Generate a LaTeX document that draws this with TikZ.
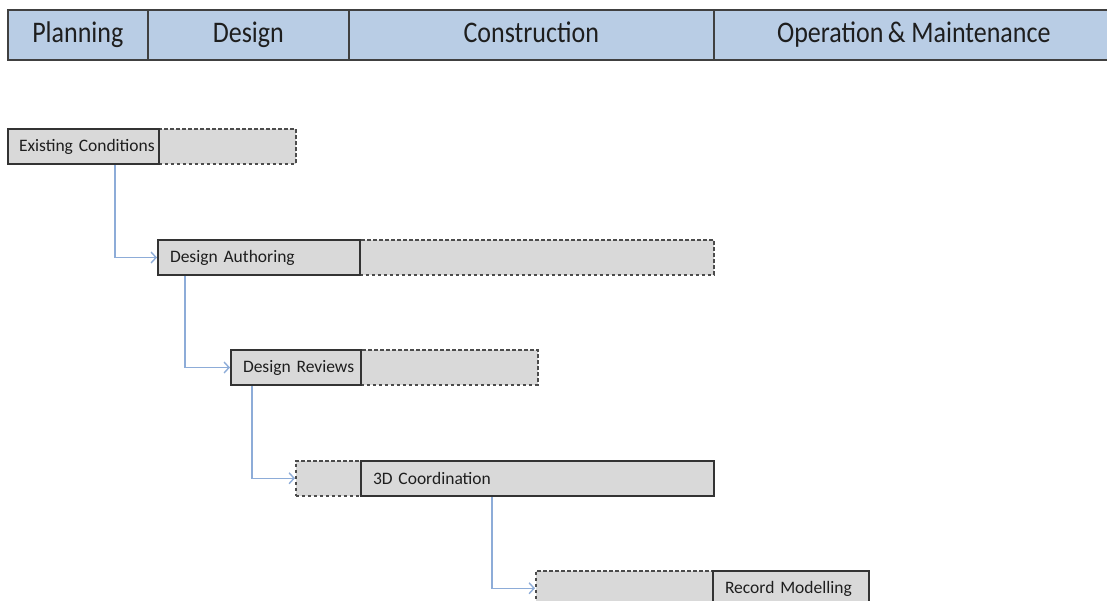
\documentclass[tikz,border=0pt]{standalone}
\usepackage{fontspec}
\setmainfont{Carlito}
\usetikzlibrary{arrows.meta,calc}
\definecolor{hdrblue}{RGB}{185,205,229}
\definecolor{boxgray}{RGB}{217,217,217}
\definecolor{connblue}{RGB}{141,172,216}
\definecolor{txtdark}{RGB}{30,30,30}
\newcommand{\hdrtext}[1]{\scalebox{1}[1.15]{\vphantom{Pg}#1}}
\begin{document}
\begin{tikzpicture}[x=1pt,y=-1pt,
  hdrcell/.style={draw=black!75, line width=1.6pt, fill=hdrblue, minimum height=50pt,
    anchor=north west, inner sep=0pt, text=txtdark, font=\fontsize{26}{30}\selectfont},
  solidbox/.style={draw=black!80, line width=2pt, fill=boxgray, minimum height=35pt,
    inner xsep=12pt, inner ysep=0pt, anchor=north west, align=left, text=txtdark,
    font=\fontsize{17.5}{20}\selectfont},
  dashbox/.style={draw=black!70, dash pattern=on 3.5pt off 2.5pt, line width=1.5pt,
    fill=boxgray, minimum height=35pt, anchor=north west, inner sep=0pt},
  conn/.style={draw=connblue, line width=1.4pt, -{Straight Barb[length=5pt,width=11pt]}}
]
\useasboundingbox (0,0) rectangle (1107,600);
\fill[white] (0,0) rectangle (1107,600);

% header
\node[hdrcell, minimum width=140pt] (plan) at (7,9) {\hdrtext{Planning}};
\node[hdrcell, minimum width=201pt] (des) at (147,9) {\hdrtext{Design}};
\node[hdrcell, minimum width=365pt] (con) at (348,9) {\hdrtext{Construction}};
\node[hdrcell, minimum width=400pt] (om) at (713,9) {\hdrtext{Operation\,\& Maintenance}};

% dashed extensions
\node[dashbox, minimum width=137pt] (ecd) at (158,128) {};
\node[dashbox, minimum width=354pt] (dad) at (359,239) {};
\node[dashbox, minimum width=177pt] (drd) at (360,349) {};
\node[dashbox, minimum width=65pt] (cdd) at (295,460) {};
\node[dashbox, minimum width=177pt] (rmd) at (535,570) {};

% solid boxes
\node[solidbox, text width=129pt, inner xsep=11pt, minimum width=151pt] (ec) at (7,128) {\mbox{Existing Conditions}};
\node[solidbox, text width=178pt] (da) at (157,239) {\mbox{Design Authoring}};
\node[solidbox, text width=106pt] (dr) at (230,349) {\mbox{Design Reviews}};
\node[solidbox, text width=329pt] (cd) at (360,460) {\mbox{3D Coordination}};
\node[solidbox, text width=132pt] (rm) at (712,570) {\mbox{Record Modelling}};

% connectors
\draw[conn] ($(ec.south west)+(108,0)$) |- (da.west);
\draw[conn] ($(da.south west)+(28,0)$) |- (dr.west);
\draw[conn] ($(dr.south west)+(22,0)$) |- (cdd.west);
\draw[conn] ($(cd.south west)+(132,0)$) |- (rmd.west);
\end{tikzpicture}
\end{document}
